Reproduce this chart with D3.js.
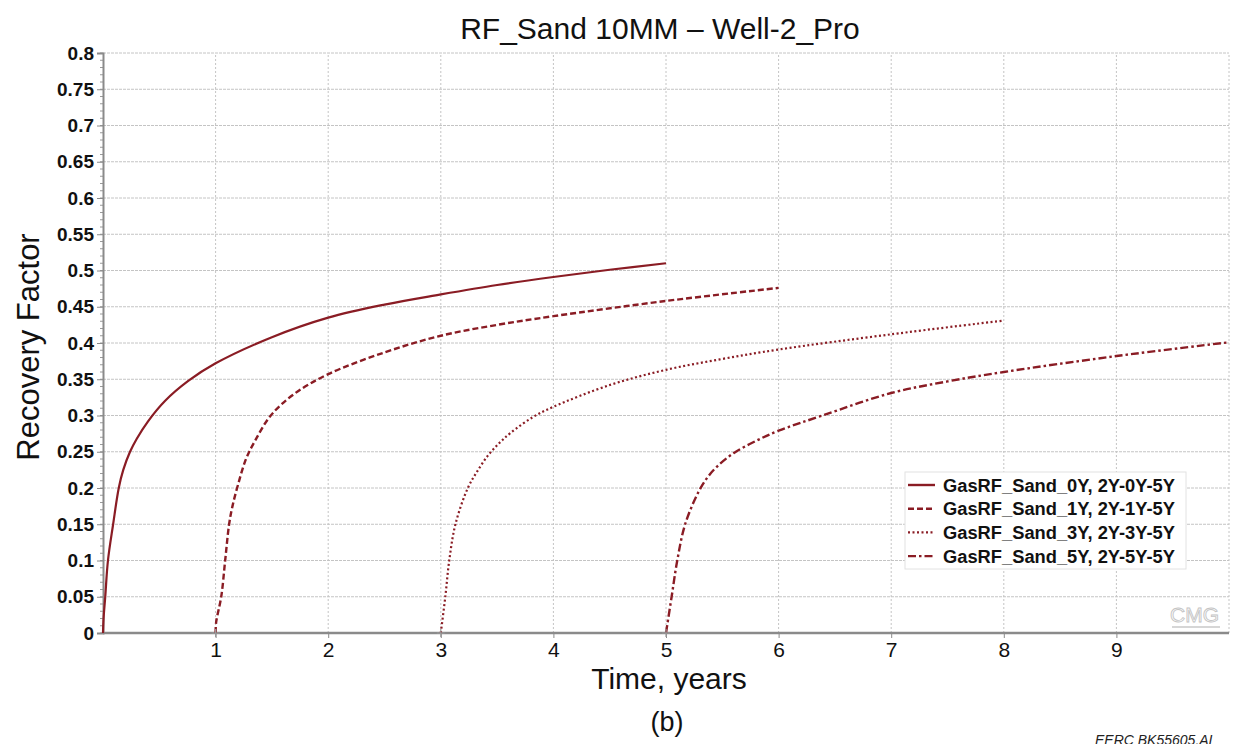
<!DOCTYPE html>
<html>
<head>
<meta charset="utf-8">
<script src="https://cdn.jsdelivr.net/npm/d3@7/dist/d3.min.js"></script>
<style>
  html, body { margin: 0; padding: 0; background: #fff; }
  svg { display: block; }
  text { font-family: Arial, "Liberation Sans", sans-serif; }
</style>
</head>
<body>
<svg id="chart" width="1233" height="744"></svg>
<script>
// ---------- data ----------
const seriesNames = ["GasRF_Sand_0Y, 2Y-0Y-5Y", "GasRF_Sand_1Y, 2Y-1Y-5Y", "GasRF_Sand_3Y, 2Y-3Y-5Y", "GasRF_Sand_5Y, 2Y-5Y-5Y"];

const t0Y  = [0, 0.005, 0.02, 0.044, 0.09, 0.14, 0.18, 0.24, 0.30, 0.40, 0.55, 0.76, 1.0, 1.5, 2.0, 2.5, 3.0, 3.5, 4.0, 4.5, 5.0];
const rf0Y = [0, 0.02, 0.05, 0.10, 0.15, 0.20, 0.225, 0.25, 0.268, 0.292, 0.32, 0.348, 0.372, 0.408, 0.435, 0.453, 0.467, 0.48, 0.491, 0.501, 0.510];

const t1Y  = [1, 1.005, 1.05, 1.085, 1.12, 1.15, 1.20, 1.27, 1.35, 1.49, 1.70, 2.0, 2.5, 3.0, 3.5, 4.0, 5.0, 6.0];
const rf1Y = [0, 0.015, 0.05, 0.10, 0.15, 0.175, 0.205, 0.24, 0.265, 0.30, 0.330, 0.357, 0.387, 0.41, 0.425, 0.437, 0.458, 0.476];

const t3Y  = [3, 3.04, 3.075, 3.13, 3.24, 3.32, 3.42, 3.52, 3.62, 3.82, 4.0, 4.5, 5.0, 5.5, 6.0, 7.0, 8.0];
const rf3Y = [0, 0.05, 0.10, 0.15, 0.20, 0.222, 0.245, 0.262, 0.276, 0.298, 0.312, 0.342, 0.363, 0.378, 0.391, 0.412, 0.431];

const t5Y  = [5, 5.05, 5.10, 5.17, 5.29, 5.37, 5.45, 5.60, 5.80, 6.0, 6.39, 7.0, 7.5, 8.0, 9.0, 10.0];
const rf5Y = [0, 0.05, 0.10, 0.15, 0.195, 0.215, 0.229, 0.248, 0.265, 0.279, 0.30, 0.331, 0.347, 0.36, 0.382, 0.401];

const xTickValues = [1, 2, 3, 4, 5, 6, 7, 8, 9];
const yTickValues = [0, 0.05, 0.1, 0.15, 0.2, 0.25, 0.3, 0.35, 0.4, 0.45, 0.5, 0.55, 0.6, 0.65, 0.7, 0.75, 0.8];
const yTickLabels = ["0", "0.05", "0.1", "0.15", "0.2", "0.25", "0.3", "0.35", "0.4", "0.45", "0.5", "0.55", "0.6", "0.65", "0.7", "0.75", "0.8"];

const titleText = "RF_Sand 10MM \u2013 Well-2_Pro";
const xLabel = "Time, years";
const yLabel = "Recovery Factor";
const captionText = "(b)";
const creditText = "EERC BK55605.AI";

// ---------- layout ----------
const svg = d3.select("#chart");
const W = 1233, H = 744;
const m = { left: 103, right: 4, top: 53, bottom: 111 };
const x = d3.scaleLinear().domain([0, 10]).range([m.left, W - m.right]);
const y = d3.scaleLinear().domain([0, 0.8]).range([H - m.bottom, m.top]);

const lineColor = "#8a1c24";
const gridColor = "#c4c4c4";
const FONT = "Arial, 'Liberation Sans', sans-serif";

// grid lines
svg.append("g").selectAll("line").data(yTickValues.slice(1)).join("line")
  .attr("x1", x(0)).attr("x2", x(10))
  .attr("y1", d => y(d)).attr("y2", d => y(d))
  .attr("stroke", gridColor).attr("stroke-width", 1)
  .attr("stroke-dasharray", "3,1");
svg.append("g").selectAll("line").data(xTickValues.concat([10])).join("line")
  .attr("x1", d => x(d)).attr("x2", d => x(d))
  .attr("y1", y(0)).attr("y2", y(0.8))
  .attr("stroke", gridColor).attr("stroke-width", 1)
  .attr("stroke-dasharray", "2,2");

// minor y ticks
const minorY = d3.range(0, 81).map(i => i / 100);
svg.append("g").selectAll("line").data(minorY).join("line")
  .attr("x1", x(0) - 3).attr("x2", x(0))
  .attr("y1", d => y(d)).attr("y2", d => y(d))
  .attr("stroke", "#9a9a9a").attr("stroke-width", 1);

// y axis
const yAxis = d3.axisLeft(y).tickValues(yTickValues)
  .tickFormat((d, i) => yTickLabels[i]).tickSize(6).tickPadding(3);
const gy = svg.append("g").attr("transform", `translate(${x(0)},0)`).call(yAxis);
gy.select(".domain").attr("stroke", "#8a8a8a").attr("stroke-width", 2);
gy.selectAll(".tick line").attr("stroke", "#8a8a8a");
gy.selectAll(".tick text").attr("font-size", 19).attr("font-weight", "bold")
  .attr("fill", "#111").attr("font-family", FONT);

// x axis
const xAxis = d3.axisBottom(x).tickValues(xTickValues).tickFormat(d3.format("d"))
  .tickSize(5).tickPadding(4);
const gx = svg.append("g").attr("transform", `translate(0,${y(0)})`).call(xAxis);
gx.select(".domain").attr("stroke", "#8a8a8a").attr("stroke-width", 2.5)
  .attr("d", `M${x(0)},0H${x(10)}`);
gx.selectAll(".tick line").attr("stroke", "#8a8a8a");
gx.selectAll(".tick text").attr("font-size", 21).attr("fill", "#111")
  .attr("font-family", FONT);

// series
const series = [
  { name: seriesNames[0], t: t0Y, v: rf0Y, dash: null, w: 2.2 },
  { name: seriesNames[1], t: t1Y, v: rf1Y, dash: "6,3", w: 2.4 },
  { name: seriesNames[2], t: t3Y, v: rf3Y, dash: "2,2.5", w: 2.2 },
  { name: seriesNames[3], t: t5Y, v: rf5Y, dash: "8,3,2.5,3", w: 2.4 }
];
const line = d3.line().x(d => x(d[0])).y(d => y(d[1])).curve(d3.curveCatmullRom.alpha(0.5));
series.forEach(s => {
  const pts = s.t.map((tt, i) => [tt, s.v[i]]);
  svg.append("path").datum(pts)
    .attr("d", line)
    .attr("fill", "none")
    .attr("stroke", lineColor)
    .attr("stroke-width", s.w)
    .attr("stroke-dasharray", s.dash);
});

// small start markers
svg.append("g").selectAll("path").data(series.slice(1)).join("path")
  .attr("d", d => `M${x(d.t[0]) - 4},${y(0)}h8M${x(d.t[0])},${y(0) - 4}v8`)
  .attr("stroke", "#999").attr("stroke-width", 1.2);

// legend
const lg = svg.append("g").attr("transform", "translate(905,472)");
lg.append("rect").attr("width", 281).attr("height", 97)
  .attr("fill", "#fff").attr("stroke", "#e2e2e2");
series.forEach((s, i) => {
  const yy = 13 + i * 23.7;
  lg.append("line").attr("x1", 3).attr("x2", 30).attr("y1", yy).attr("y2", yy)
    .attr("stroke", lineColor).attr("stroke-width", 2.4)
    .attr("stroke-dasharray", s.dash);
  lg.append("text").attr("x", 38).attr("y", yy + 6.5)
    .attr("font-size", 17.5).attr("font-weight", "bold").attr("fill", "#111")
    .attr("textLength", 232).attr("lengthAdjust", "spacingAndGlyphs")
    .text(s.name);
});

// CMG logo
svg.append("text").attr("x", 1219).attr("y", 622).attr("text-anchor", "end")
  .attr("font-size", 21).attr("fill", "none").attr("stroke", "#c4c4c4")
  .attr("stroke-width", 0.9).text("CMG");
svg.append("line").attr("x1", 1172).attr("x2", 1220).attr("y1", 627).attr("y2", 627)
  .attr("stroke", "#c8c8c8").attr("stroke-width", 1.5);

// titles
svg.append("text").attr("x", 660).attr("y", 39).attr("text-anchor", "middle")
  .attr("font-size", 30).attr("fill", "#111").text(titleText);
svg.append("text").attr("x", 669).attr("y", 689).attr("text-anchor", "middle")
  .attr("font-size", 30).attr("fill", "#111").text(xLabel);
svg.append("text").attr("transform", "translate(39,347) rotate(-90)")
  .attr("text-anchor", "middle").attr("font-size", 31).attr("fill", "#111").text(yLabel);
svg.append("text").attr("x", 667).attr("y", 731).attr("text-anchor", "middle")
  .attr("font-size", 27).attr("fill", "#111").text(captionText);
svg.append("text").attr("x", 1095).attr("y", 745)
  .attr("font-size", 14).attr("font-style", "italic").attr("fill", "#222").text(creditText);
</script>
</body>
</html>
